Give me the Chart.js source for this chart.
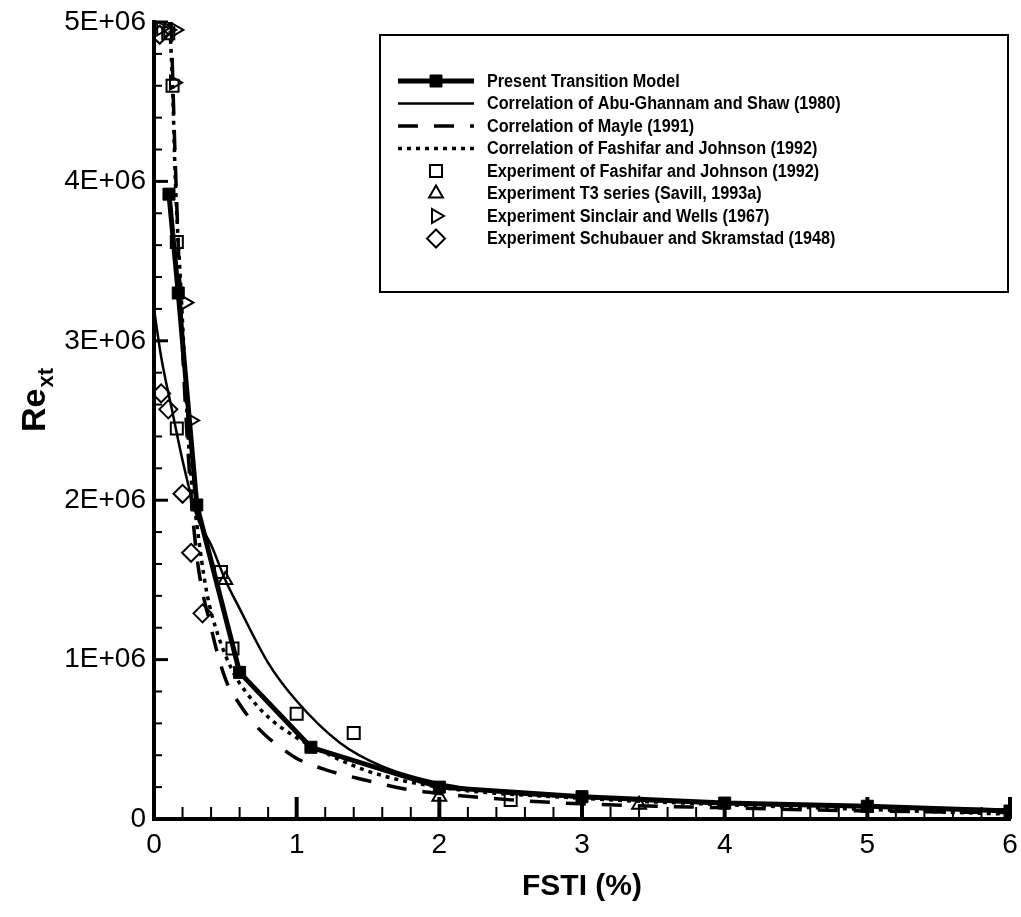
<!DOCTYPE html>
<html>
<head>
<meta charset="utf-8">
<script src="https://cdn.jsdelivr.net/npm/chart.js@4.4.1/dist/chart.umd.min.js"></script>
<style>
  html, body { margin: 0; padding: 0; background: #fff; }
  #chart { display: block; }
</style>
</head>
<body>
<canvas id="chart" width="1021" height="917"></canvas>
<script>
// values (FSTI in %, Re_xt)
const fstiModel = [0.105, 0.17, 0.30, 0.60, 1.10, 2.0, 3.0, 4.0, 5.0, 6.0];
const rextModel = [3.92e6, 3.30e6, 1.97e6, 0.92e6, 0.45e6, 0.20e6, 0.14e6, 0.10e6, 0.08e6, 0.05e6];

const fstiAbuGhannam = [0, 0.05, 0.13, 0.2, 0.3, 0.4, 0.5, 0.6, 0.8, 1.0, 1.3, 1.6, 2.0, 2.5, 3, 4, 5, 6];
const rextAbuGhannam = [3.2e6, 2.9e6, 2.55e6, 2.25e6, 1.9e6, 1.72e6, 1.5e6, 1.32e6, 0.98e6, 0.74e6, 0.48e6, 0.33e6, 0.225e6, 0.16e6, 0.135e6, 0.095e6, 0.075e6, 0.06e6];

const fstiMayle = [0.12, 0.15, 0.2, 0.25, 0.3, 0.4, 0.5, 0.6, 0.7, 0.8, 0.9, 1.0, 1.2, 1.5, 1.75, 2.0, 2.5, 3, 4, 5, 6];
const rextMayle = [5.0e6, 4.1e6, 2.95e6, 2.15e6, 1.65e6, 1.2e6, 0.88e6, 0.72e6, 0.6e6, 0.51e6, 0.44e6, 0.38e6, 0.31e6, 0.24e6, 0.19e6, 0.16e6, 0.12e6, 0.095e6, 0.07e6, 0.05e6, 0.04e6];

const fstiFashifarCorr = [0.11, 0.13, 0.15, 0.19, 0.22, 0.25, 0.3, 0.37, 0.45, 0.55, 0.65, 0.8, 1.0, 1.1, 1.5, 2.0, 3, 4, 5, 6];
const rextFashifarCorr = [5.0e6, 4.6e6, 4.0e6, 3.3e6, 2.75e6, 2.25e6, 1.85e6, 1.42e6, 1.15e6, 0.93e6, 0.79e6, 0.64e6, 0.51e6, 0.46e6, 0.3e6, 0.2e6, 0.13e6, 0.09e6, 0.06e6, 0.03e6];

const fstiFashifarExp = [0.10, 0.13, 0.16, 0.16, 0.47, 0.55, 1.0, 1.4, 2.5];
const rextFashifarExp = [4.93e6, 4.6e6, 3.62e6, 2.45e6, 1.55e6, 1.07e6, 0.66e6, 0.54e6, 0.12e6];

const fstiT3 = [0.5, 2.0, 3.4];
const rextT3 = [1.5e6, 0.14e6, 0.09e6];

const fstiSinclair = [0.05, 0.10, 0.15, 0.14, 0.22, 0.26];
const rextSinclair = [4.96e6, 4.95e6, 4.95e6, 4.62e6, 3.24e6, 2.5e6];

const fstiSchubauer = [0.04, 0.05, 0.10, 0.20, 0.26, 0.34];
const rextSchubauer = [4.92e6, 2.67e6, 2.57e6, 2.04e6, 1.67e6, 1.29e6];

const xTicks = [0, 1, 2, 3, 4, 5, 6];
const yTickLabels = ['0', '1E+06', '2E+06', '3E+06', '4E+06', '5E+06'];

const FONT = '"Liberation Sans", Arial, sans-serif';

function pts(xs, ys) {
    return xs.map((x, i) => ({ x: x, y: ys[i] }));
}

const datasets = [
    {
        label: 'Present Transition Model',
        data: pts(fstiModel, rextModel),
        showLine: true, borderColor: '#000', backgroundColor: '#000',
        borderWidth: 5, tension: 0,
        pointStyle: 'rect', pointRadius: 8.5, pointBorderWidth: 1,
    },
    {
        label: 'Correlation of Abu-Ghannam and Shaw (1980)',
        data: pts(fstiAbuGhannam, rextAbuGhannam),
        showLine: true, borderColor: '#000', borderWidth: 2.5,
        cubicInterpolationMode: 'monotone', pointRadius: 0,
    },
    {
        label: 'Correlation of Mayle (1991)',
        data: pts(fstiMayle, rextMayle),
        showLine: true, borderColor: '#000', borderWidth: 3.5, borderDash: [20, 16],
        cubicInterpolationMode: 'monotone', pointRadius: 0,
    },
    {
        label: 'Correlation of Fashifar and Johnson (1992)',
        data: pts(fstiFashifarCorr, rextFashifarCorr),
        showLine: true, borderColor: '#000', borderWidth: 3.5, borderDash: [4, 5],
        cubicInterpolationMode: 'monotone', pointRadius: 0,
    },
    {
        label: 'Experiment of Fashifar and Johnson (1992)',
        data: pts(fstiFashifarExp, rextFashifarExp),
        showLine: false, borderColor: '#000', backgroundColor: 'rgba(255,255,255,0)',
        pointStyle: 'rect', pointRadius: 8.5, pointBorderWidth: 2,
    },
    {
        label: 'Experiment T3 series (Savill, 1993a)',
        data: pts(fstiT3, rextT3),
        showLine: false, borderColor: '#000', backgroundColor: 'rgba(255,255,255,0)',
        pointStyle: 'triangle', pointRadius: 8, pointBorderWidth: 2,
    },
    {
        label: 'Experiment Sinclair and Wells (1967)',
        data: pts(fstiSinclair, rextSinclair),
        showLine: false, borderColor: '#000', backgroundColor: 'rgba(255,255,255,0)',
        pointStyle: 'triangle', pointRotation: 90, pointRadius: 8, pointBorderWidth: 2,
    },
    {
        label: 'Experiment Schubauer and Skramstad (1948)',
        data: pts(fstiSchubauer, rextSchubauer),
        showLine: false, borderColor: '#000', backgroundColor: 'rgba(255,255,255,0)',
        pointStyle: 'rectRot', pointRadius: 9, pointBorderWidth: 2,
    },
];

// draws one legend marker by hand
function marker(ctx, ds, x, y) {
    const r = ds.pointRadius;
    ctx.save();
    ctx.lineWidth = ds.pointBorderWidth || 2;
    ctx.strokeStyle = '#000';
    ctx.beginPath();
    if (ds.pointStyle === 'rect') {
        const s = r * Math.SQRT1_2;
        ctx.rect(x - s, y - s, 2 * s, 2 * s);
    } else if (ds.pointStyle === 'rectRot') {
        ctx.moveTo(x, y - r); ctx.lineTo(x + r, y); ctx.lineTo(x, y + r); ctx.lineTo(x - r, y); ctx.closePath();
    } else if (ds.pointStyle === 'triangle') {
        const rot = (ds.pointRotation || 0) * Math.PI / 180;
        for (let k = 0; k < 3; k++) {
            const a = rot - Math.PI / 2 + k * 2 * Math.PI / 3;
            const px = x + Math.cos(a) * r, py = y + Math.sin(a) * r;
            if (k === 0) ctx.moveTo(px, py); else ctx.lineTo(px, py);
        }
        ctx.closePath();
    }
    if (ds.showLine) { ctx.fillStyle = '#000'; ctx.fill(); }
    ctx.stroke();
    ctx.restore();
}

const decorations = {
    id: 'decorations',
    afterDraw(chart) {
        const ctx = chart.ctx;
        const xs = chart.scales.x, ys = chart.scales.y;
        const area = chart.chartArea;
        ctx.save();
        ctx.strokeStyle = '#000';
        // inward ticks on x
        for (let i = 0; i <= 30; i++) {
            const v = i * 0.2;
            const px = xs.getPixelForValue(v);
            const major = i % 5 === 0;
            ctx.lineWidth = major ? 4 : 2;
            ctx.beginPath();
            ctx.moveTo(px, area.bottom);
            ctx.lineTo(px, area.bottom - (major ? 22 : 12));
            ctx.stroke();
        }
        // inward ticks on y
        for (let i = 0; i <= 25; i++) {
            const v = i * 2e5;
            const py = ys.getPixelForValue(v);
            const major = i % 5 === 0;
            ctx.lineWidth = major ? 3 : 2;
            ctx.beginPath();
            ctx.moveTo(area.left, py);
            ctx.lineTo(area.left + (major ? 14 : 8), py);
            ctx.stroke();
        }

        // axis titles
        ctx.fillStyle = '#000';
        ctx.font = 'bold 30px ' + FONT;
        ctx.textAlign = 'center';
        ctx.textBaseline = 'alphabetic';
        ctx.fillText('FSTI (%)', (area.left + area.right) / 2, 895);

        ctx.save();
        ctx.translate(45, 432);
        ctx.rotate(-Math.PI / 2);
        ctx.textAlign = 'left';
        ctx.font = 'bold 34px ' + FONT;
        ctx.fillText('Re', 0, 0);
        const w = ctx.measureText('Re').width;
        ctx.font = 'bold 22px ' + FONT;
        ctx.fillText('xt', w + 1, 8);
        ctx.restore();

        // legend box
        const bx = 380, by = 35, bw = 628, bh = 257;
        ctx.fillStyle = '#fff';
        ctx.fillRect(bx, by, bw, bh);
        ctx.lineWidth = 2;
        ctx.strokeRect(bx, by, bw, bh);
        chart.data.datasets.forEach((ds, i) => {
            const y = 81 + i * 22.5;
            if (ds.showLine) {
                ctx.save();
                ctx.lineWidth = ds.borderWidth;
                ctx.setLineDash(ds.borderDash || []);
                ctx.beginPath();
                ctx.moveTo(398, y);
                ctx.lineTo(474, y);
                ctx.stroke();
                ctx.restore();
            }
            if (ds.pointRadius > 0) marker(ctx, ds, 436, y);
            // condensed bold text, like the original
            ctx.save();
            ctx.translate(487, y + 1);
            ctx.scale(0.9, 1);
            ctx.fillStyle = '#000';
            ctx.font = 'bold 18px ' + FONT;
            ctx.textAlign = 'left';
            ctx.textBaseline = 'middle';
            ctx.fillText(ds.label, 0, 0);
            ctx.restore();
        });
        ctx.restore();
    }
};

new Chart(document.getElementById('chart'), {
    type: 'scatter',
    data: { datasets: datasets },
    options: {
        responsive: false,
        animation: false,
        layout: { padding: { top: 22, right: 8, bottom: 0, left: 0 } },
        plugins: { legend: { display: false }, tooltip: { enabled: false } },
        scales: {
            x: {
                type: 'linear', min: 0, max: 6,
                afterBuildTicks: (s) => { s.ticks = xTicks.map(v => ({ value: v })); },
                ticks: { color: '#000', font: { size: 28, family: FONT }, padding: 9, maxRotation: 0 },
                grid: { display: false, drawTicks: false },
                border: { display: true, color: '#000', width: 4 },
                afterFit: (s) => { s.height = 98; s.paddingRight = 0; s.paddingLeft = 0; },
            },
            y: {
                type: 'linear', min: 0, max: 5e6,
                afterBuildTicks: (s) => { s.ticks = yTickLabels.map((t, i) => ({ value: i * 1e6 })); },
                ticks: {
                    color: '#000', font: { size: 28, family: FONT }, padding: 8,
                    callback: (v, i) => yTickLabels[i],
                },
                grid: { display: false, drawTicks: false },
                border: { display: true, color: '#000', width: 4 },
                afterFit: (s) => { s.width = 154; s.paddingTop = 0; s.paddingBottom = 0; },
            },
        },
    },
    plugins: [decorations],
});
</script>
</body>
</html>
